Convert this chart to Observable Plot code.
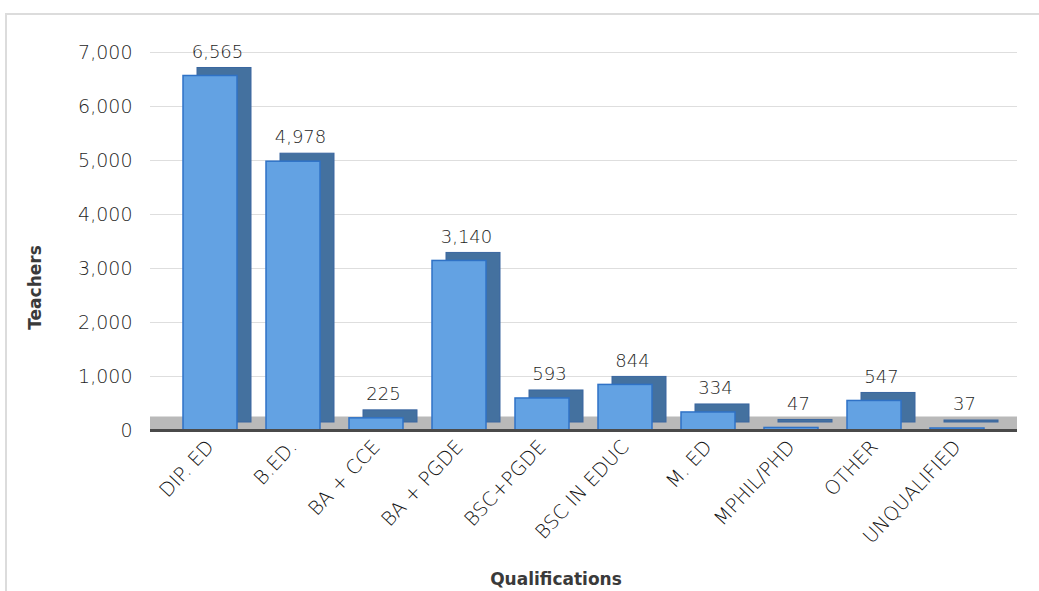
<!DOCTYPE html>
<html>
<head>
<meta charset="utf-8">
<script src="https://cdn.jsdelivr.net/npm/d3@7"></script>
<script src="https://cdn.jsdelivr.net/npm/@observablehq/plot@0.6"></script>
<style>
  html, body { margin: 0; padding: 0; background: #fff; }
  #wrap { position: relative; width: 1039px; height: 591px; overflow: hidden; }
  #frame { position: absolute; left: 5px; top: 13px; width: 1100px; height: 700px;
           border-left: 2px solid #dcdcdc; border-top: 2px solid #dcdcdc; }
  #chart { position: absolute; left: 0; top: 0; }
</style>
</head>
<body>
<div id="wrap"><div id="frame"></div><div id="chart"></div></div>
<script>
const categories = ["DIP. ED", "B.ED.", "BA + CCE", "BA + PGDE", "BSC+PGDE", "BSC IN EDUC", "M. ED", "MPHIL/PHD", "OTHER", "UNQUALIFIED"];
const teachers = [6565, 4978, 225, 3140, 593, 844, 334, 47, 547, 37];
const yTicks = [0, 1000, 2000, 3000, 4000, 5000, 6000, 7000];

const data = categories.map((c, i) => ({ q: c, v: teachers[i] }));
const font = "DejaVu Sans, sans-serif";

const plot = Plot.plot({
  width: 1039,
  height: 591,
  marginLeft: 150,
  marginRight: 22,
  marginTop: 52,
  marginBottom: 161,
  style: { fontFamily: font, background: "transparent", color: "#404040" },
  x: { domain: categories, padding: 0.35, label: null },
  y: { domain: [0, 7000], label: null },
  marks: [
    Plot.gridY(yTicks, { stroke: "#dedede", strokeOpacity: 1 }),
    Plot.ruleY([0], { stroke: "#b9b9b9", strokeWidth: 14, dy: -7 }),
    Plot.barY(data, { x: "q", y: "v", fill: "#44719f", stroke: "#3a66a0", dx: 14, dy: -8 }),
    Plot.barY(data, { x: "q", y: "v", fill: "#63a2e3", stroke: "#2f72c6", strokeWidth: 1.5 }),
    Plot.ruleY([0], { stroke: "#4a4a4a", strokeWidth: 3 }),
    Plot.text(data, { x: "q", y: "v", text: d => d3.format(",")(d.v), dy: -24, dx: 7,
      fontSize: 18, fontWeight: 300, fill: "#1e1e1e", fontFamily: font }),
    Plot.axisY({ ticks: yTicks, tickFormat: d3.format(","), tickSize: 0, tickPadding: 18,
      fontSize: 19, fontWeight: 300, fill: "#1e1e1e", label: null }),
    Plot.axisX({ tickSize: 0, tickPadding: 13, tickRotate: -47, fontSize: 19.5, fontWeight: 300,
      fill: "#111", label: null }),
    Plot.text(["Teachers"], { frameAnchor: "left", textAnchor: "middle", dx: -115, dy: 46, rotate: -90,
      fontSize: 17, fontWeight: "bold", fill: "#3a3a3a", fontFamily: font }),
    Plot.text(["Qualifications"], { frameAnchor: "bottom", dx: -28, dy: 154,
      fontSize: 17, fontWeight: "bold", fill: "#3a3a3a", fontFamily: font })
  ]
});
document.getElementById("chart").appendChild(plot);
</script>
</body>
</html>
